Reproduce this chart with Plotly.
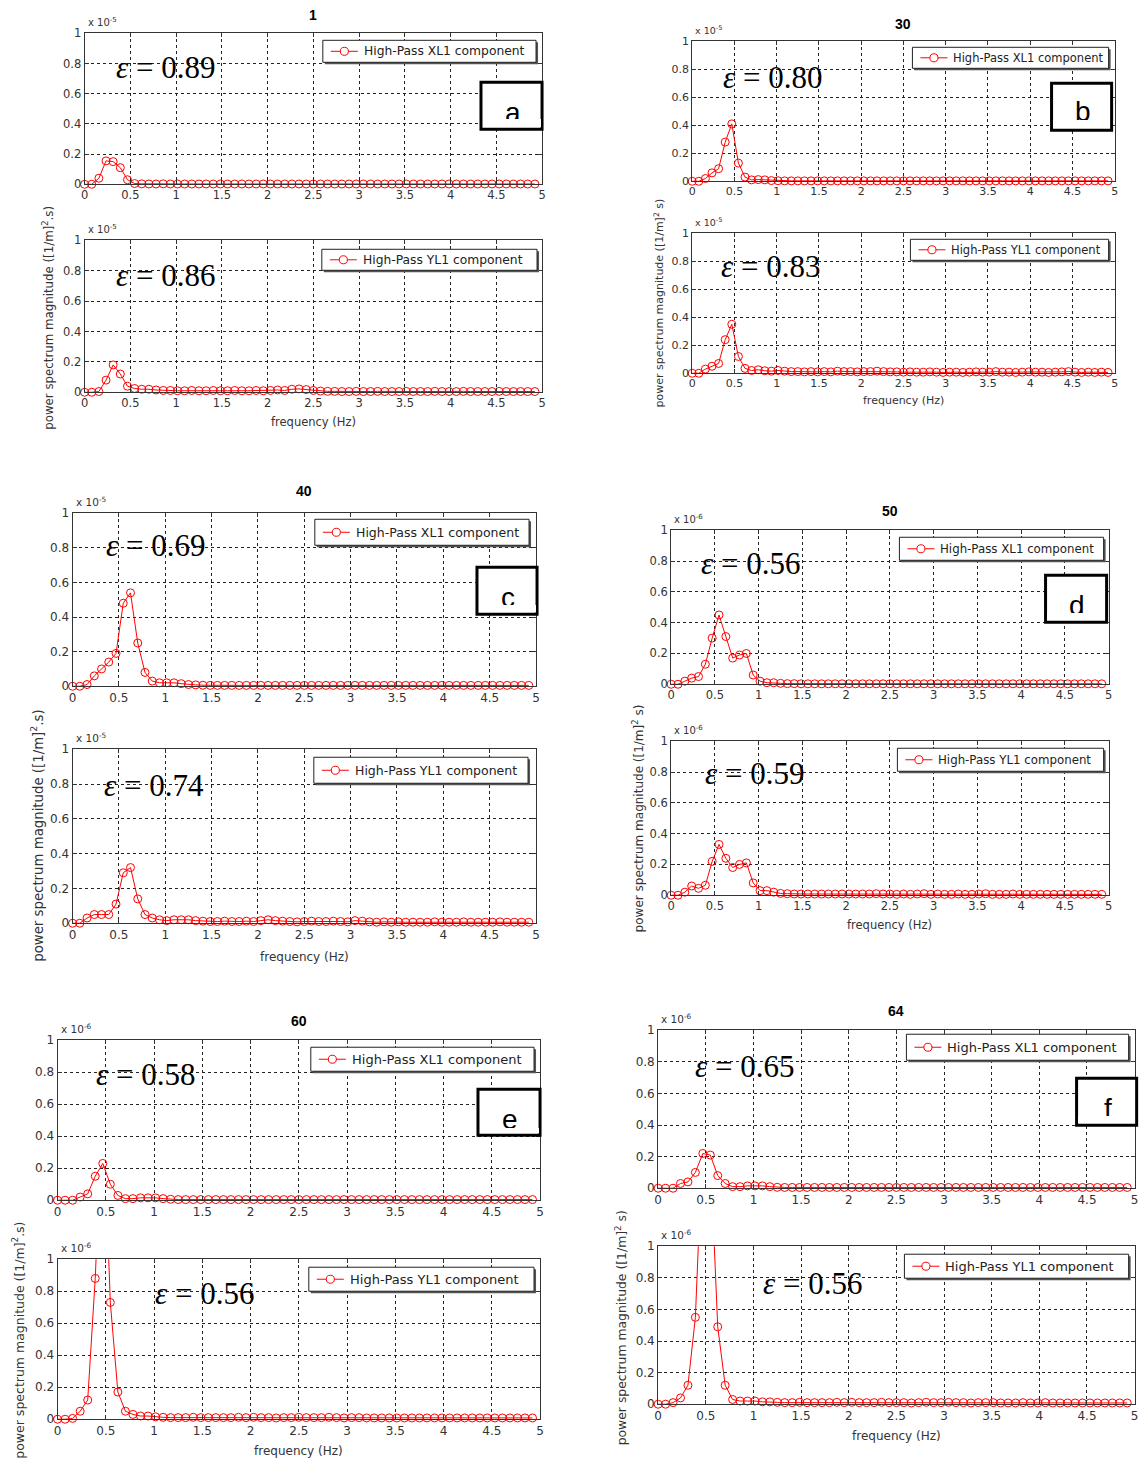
import plotly.graph_objects as go

# FFT bin frequencies (Hz): fs = 10 Hz, N = 128, first 64 bins
freq = [0, 0.0781, 0.1563, 0.2344, 0.3125, 0.3906, 0.4688, 0.5469, 0.625, 0.7031, 0.7813, 0.8594, 0.9375, 1.0156, 1.0938, 1.1719,
        1.25, 1.3281, 1.4063, 1.4844, 1.5625, 1.6406, 1.7188, 1.7969, 1.875, 1.9531, 2.0313, 2.1094, 2.1875, 2.2656, 2.3438, 2.4219,
        2.5, 2.5781, 2.6563, 2.7344, 2.8125, 2.8906, 2.9688, 3.0469, 3.125, 3.2031, 3.2813, 3.3594, 3.4375, 3.5156, 3.5938, 3.6719,
        3.75, 3.8281, 3.9063, 3.9844, 4.0625, 4.1406, 4.2188, 4.2969, 4.375, 4.4531, 4.5313, 4.6094, 4.6875, 4.7656, 4.8438, 4.9219]

# Power spectrum magnitudes, in units of the axis multiplier
a_xl1 = [0, 0, 0.04, 0.155, 0.15, 0.11, 0.03, 0.005, 0.003, 0.002, 0.002, 0.003, 0.002, 0.002, 0.002, 0.002,
         0.002, 0.002, 0.002, 0.002, 0.002, 0.002, 0.002, 0.002, 0.002, 0.002, 0.002, 0.002, 0.002, 0.002, 0.002, 0.002,
         0.002, 0.002, 0.002, 0.002, 0.002, 0.002, 0.002, 0.002, 0.002, 0.002, 0.002, 0.002, 0.002, 0.002, 0.002, 0.002,
         0.002, 0.002, 0.002, 0.002, 0.002, 0.002, 0.002, 0.002, 0.002, 0.002, 0.002, 0.002, 0.002, 0.002, 0.002, 0.002]
a_yl1 = [0, 0, 0.005, 0.08, 0.18, 0.12, 0.04, 0.025, 0.02, 0.02, 0.015, 0.012, 0.012, 0.01, 0.01, 0.012,
         0.01, 0.01, 0.012, 0.01, 0.01, 0.012, 0.01, 0.01, 0.012, 0.01, 0.012, 0.015, 0.012, 0.02, 0.022, 0.018,
         0.012, 0.008, 0.006, 0.006, 0.005, 0.005, 0.006, 0.005, 0.005, 0.006, 0.005, 0.005, 0.005, 0.006, 0.005, 0.005,
         0.005, 0.006, 0.005, 0.005, 0.005, 0.006, 0.005, 0.005, 0.005, 0.005, 0.006, 0.005, 0.005, 0.005, 0.005, 0.005]
b_xl1 = [0, 0, 0.02, 0.06, 0.09, 0.28, 0.41, 0.13, 0.03, 0.01, 0.012, 0.01, 0.005, 0.004, 0.003, 0.003,
         0.003, 0.003, 0.003, 0.003, 0.003, 0.003, 0.003, 0.003, 0.003, 0.003, 0.003, 0.003, 0.003, 0.003, 0.003, 0.003,
         0.003, 0.003, 0.003, 0.003, 0.003, 0.003, 0.003, 0.003, 0.003, 0.003, 0.003, 0.003, 0.003, 0.003, 0.003, 0.003,
         0.003, 0.003, 0.003, 0.003, 0.003, 0.003, 0.003, 0.003, 0.003, 0.003, 0.003, 0.003, 0.003, 0.003, 0.003, 0.003]
b_yl1 = [0, 0, 0.03, 0.05, 0.07, 0.24, 0.35, 0.12, 0.035, 0.02, 0.025, 0.018, 0.015, 0.02, 0.015, 0.012,
         0.012, 0.01, 0.012, 0.01, 0.012, 0.01, 0.015, 0.012, 0.012, 0.01, 0.012, 0.012, 0.015, 0.012, 0.01, 0.01,
         0.008, 0.01, 0.008, 0.008, 0.01, 0.008, 0.006, 0.008, 0.008, 0.006, 0.008, 0.01, 0.008, 0.008, 0.012, 0.008,
         0.008, 0.006, 0.008, 0.01, 0.008, 0.008, 0.006, 0.008, 0.01, 0.012, 0.008, 0.006, 0.008, 0.006, 0.008, 0.006]
c_xl1 = [0, 0, 0.01, 0.06, 0.10, 0.14, 0.19, 0.48, 0.54, 0.25, 0.08, 0.03, 0.02, 0.02, 0.02, 0.015,
         0.01, 0.008, 0.006, 0.005, 0.005, 0.005, 0.005, 0.005, 0.005, 0.005, 0.005, 0.005, 0.005, 0.005, 0.005, 0.005,
         0.005, 0.005, 0.005, 0.005, 0.005, 0.005, 0.005, 0.005, 0.005, 0.005, 0.005, 0.005, 0.005, 0.005, 0.005, 0.005,
         0.005, 0.005, 0.005, 0.005, 0.005, 0.005, 0.005, 0.005, 0.005, 0.005, 0.005, 0.005, 0.005, 0.005, 0.005, 0.005]
c_yl1 = [0, 0, 0.03, 0.05, 0.05, 0.05, 0.11, 0.29, 0.32, 0.14, 0.05, 0.03, 0.02, 0.015, 0.02, 0.02,
         0.02, 0.015, 0.012, 0.01, 0.01, 0.012, 0.01, 0.01, 0.012, 0.01, 0.015, 0.02, 0.015, 0.012, 0.01, 0.008,
         0.01, 0.012, 0.01, 0.01, 0.012, 0.01, 0.008, 0.015, 0.012, 0.008, 0.006, 0.008, 0.006, 0.008, 0.006, 0.006,
         0.006, 0.006, 0.008, 0.006, 0.006, 0.006, 0.008, 0.006, 0.006, 0.006, 0.006, 0.008, 0.006, 0.006, 0.006, 0.006]
d_xl1 = [0, 0, 0.02, 0.04, 0.05, 0.13, 0.30, 0.45, 0.31, 0.17, 0.19, 0.20, 0.06, 0.02, 0.01, 0.01,
         0.006, 0.004, 0.004, 0.003, 0.003, 0.003, 0.003, 0.003, 0.003, 0.003, 0.003, 0.003, 0.003, 0.003, 0.003, 0.003,
         0.003, 0.003, 0.003, 0.003, 0.003, 0.003, 0.003, 0.003, 0.003, 0.003, 0.003, 0.003, 0.003, 0.003, 0.003, 0.003,
         0.003, 0.003, 0.003, 0.003, 0.003, 0.003, 0.003, 0.003, 0.003, 0.003, 0.003, 0.003, 0.003, 0.003, 0.003, 0.003]
d_yl1 = [0, 0, 0.02, 0.06, 0.045, 0.065, 0.22, 0.33, 0.24, 0.18, 0.20, 0.21, 0.08, 0.03, 0.03, 0.02,
         0.012, 0.01, 0.008, 0.008, 0.008, 0.008, 0.008, 0.008, 0.008, 0.008, 0.008, 0.008, 0.008, 0.008, 0.01, 0.008,
         0.008, 0.006, 0.008, 0.006, 0.008, 0.01, 0.006, 0.008, 0.006, 0.006, 0.008, 0.006, 0.006, 0.008, 0.01, 0.006,
         0.006, 0.006, 0.008, 0.006, 0.006, 0.006, 0.006, 0.006, 0.006, 0.006, 0.006, 0.006, 0.006, 0.006, 0.006, 0.006]
e_xl1 = [0, 0, 0, 0.02, 0.04, 0.15, 0.23, 0.10, 0.03, 0.01, 0.01, 0.015, 0.015, 0.015, 0.01, 0.006,
         0.004, 0.004, 0.004, 0.004, 0.004, 0.004, 0.004, 0.004, 0.004, 0.004, 0.004, 0.004, 0.004, 0.004, 0.004, 0.004,
         0.004, 0.004, 0.004, 0.004, 0.004, 0.004, 0.004, 0.004, 0.004, 0.004, 0.004, 0.004, 0.004, 0.004, 0.004, 0.004,
         0.004, 0.004, 0.004, 0.004, 0.004, 0.004, 0.004, 0.004, 0.004, 0.004, 0.004, 0.004, 0.004, 0.004, 0.004, 0.004]
e_yl1 = [0, 0, 0.005, 0.05, 0.12, 0.88, 2.0, 0.73, 0.17, 0.05, 0.03, 0.02, 0.02, 0.015, 0.012, 0.01,
         0.01, 0.01, 0.012, 0.01, 0.01, 0.01, 0.01, 0.01, 0.012, 0.01, 0.012, 0.01, 0.01, 0.008, 0.01, 0.01,
         0.012, 0.01, 0.01, 0.01, 0.012, 0.01, 0.008, 0.01, 0.01, 0.008, 0.008, 0.008, 0.008, 0.008, 0.008, 0.008,
         0.008, 0.008, 0.008, 0.008, 0.008, 0.008, 0.008, 0.008, 0.008, 0.008, 0.008, 0.008, 0.008, 0.008, 0.008, 0.008]
f_xl1 = [0, 0, 0, 0.03, 0.04, 0.10, 0.22, 0.21, 0.08, 0.03, 0.01, 0.01, 0.015, 0.015, 0.015, 0.01,
         0.006, 0.005, 0.005, 0.005, 0.005, 0.005, 0.005, 0.005, 0.005, 0.005, 0.005, 0.005, 0.005, 0.005, 0.005, 0.005,
         0.005, 0.005, 0.005, 0.005, 0.005, 0.005, 0.005, 0.005, 0.005, 0.005, 0.005, 0.005, 0.005, 0.005, 0.005, 0.005,
         0.005, 0.005, 0.005, 0.005, 0.005, 0.005, 0.005, 0.005, 0.005, 0.005, 0.005, 0.005, 0.005, 0.005, 0.005, 0.005]
f_yl1 = [0, 0, 0.01, 0.04, 0.12, 0.55, 1.7, 1.6, 0.49, 0.12, 0.03, 0.02, 0.02, 0.02, 0.015, 0.015,
         0.012, 0.01, 0.01, 0.012, 0.01, 0.01, 0.01, 0.01, 0.012, 0.01, 0.012, 0.01, 0.01, 0.01, 0.012, 0.01,
         0.01, 0.01, 0.008, 0.01, 0.012, 0.01, 0.01, 0.012, 0.01, 0.01, 0.008, 0.01, 0.01, 0.01, 0.008, 0.008,
         0.008, 0.01, 0.008, 0.008, 0.01, 0.008, 0.008, 0.008, 0.008, 0.008, 0.008, 0.008, 0.008, 0.008, 0.008, 0.008]

titles = ["1", "30", "40", "50", "60", "64"]
letters = ["a", "b", "c", "d", "e", "f"]
eps_top = ["0.89", "0.80", "0.69", "0.56", "0.58", "0.65"]
eps_bot = ["0.86", "0.83", "0.74", "0.59", "0.56", "0.56"]
multiplier_top = ["-5", "-5", "-5", "-6", "-6", "-6"]
multiplier_bot = ["-5", "-5", "-5", "-6", "-6", "-6"]
ylabel_tail = [".s)", " s)", ".s)", " s)", ".s)", " s)"]
legend_names = ["High-Pass XL1 component", "High-Pass YL1 component"]
xl1_series = [a_xl1, b_xl1, c_xl1, d_xl1, e_xl1, f_xl1]
yl1_series = [a_yl1, b_yl1, c_yl1, d_yl1, e_yl1, f_yl1]

FIG_W, FIG_H = 1144, 1465
# Page placement of the figure (offset and scale of the rendered page)
AX, SX = 3.5, 0.992
AY, SY = 6.7, 0.9905

# Panel geometry in page pixels
panels = [
    dict(x0=84, x1=541, t0=33, t1=184, b0=240, b1=392, fs=11.5, lfs=12.3, yfs=11.8,
         lg_t=(322, 40, 535, 62), lg_b=(321, 249, 536, 270),
         box=(480, 82, 541, 129), base=122, cut=119,
         eps_t=(113, 67), eps_b=(113, 275), ylab=(48, 318), xlab=422, ttl=15),
    dict(x0=691, x1=1113, t0=41, t1=181, b0=233, b1=373, fs=11, lfs=11.5, yfs=11,
         lg_t=(911, 47, 1107, 68), lg_b=(909, 239, 1107, 260),
         box=(1050, 83, 1110, 130), base=121, cut=120,
         eps_t=(720, 77), eps_b=(718, 266), ylab=(658, 303), xlab=400, ttl=24),
    dict(x0=72, x1=535, t0=513, t1=686, b0=749, b1=923, fs=12, lfs=12.5, yfs=13.3,
         lg_t=(314, 519, 528, 545), lg_b=(313, 757, 527, 783),
         box=(476, 567, 536, 614), base=607, cut=605,
         eps_t=(103, 545), eps_b=(101, 785), ylab=(37, 836), xlab=957, ttl=491),
    dict(x0=670, x1=1107, t0=530, t1=684, b0=741, b1=895, fs=11.5, lfs=11.8, yfs=12,
         lg_t=(898, 537, 1102, 560), lg_b=(896, 748, 1102, 771),
         box=(1044, 575, 1105, 622), base=615, cut=613,
         eps_t=(698, 563), eps_b=(702, 773), ylab=(637, 818), xlab=925, ttl=511),
    dict(x0=57, x1=539, t0=1040, t1=1200, b0=1259, b1=1419, fs=12, lfs=13, yfs=12.5,
         lg_t=(310, 1047, 533, 1071), lg_b=(308, 1267, 533, 1291),
         box=(477, 1089, 539, 1135), base=1129, cut=1128,
         eps_t=(93, 1074), eps_b=(152, 1293), ylab=(18, 1340), xlab=1451, ttl=1021),
    dict(x0=657, x1=1133, t0=1030, t1=1188, b0=1246, b1=1404, fs=12, lfs=13, yfs=12.4,
         lg_t=(905, 1034, 1127, 1060), lg_b=(903, 1254, 1127, 1278),
         box=(1075, 1078, 1135, 1125), base=1118, cut=1116,
         eps_t=(692, 1066), eps_b=(760, 1283), ylab=(620, 1328), xlab=1436, ttl=1011),
]


def px(x):
    return ((x - AX) / SX) / FIG_W


def py(y):
    return 1 - ((y - AY) / SY) / FIG_H


SANS = "DejaVu Sans, Verdana, sans-serif"
ARIAL = "Arial, Liberation Sans, Helvetica, sans-serif"
SERIF = "Times New Roman, Liberation Serif, serif"
RED = "#ff0000"

fig = go.Figure()
layout = dict(width=FIG_W, height=FIG_H, margin=dict(l=0, r=0, t=0, b=0), autosize=False,
              paper_bgcolor="white", plot_bgcolor="white", showlegend=False)
annotations = []
shapes = []


def paper_shape(kind, x0, y0, x1, y1, **kw):
    return dict(type=kind, xref="paper", yref="paper", x0=px(x0), x1=px(x1), y0=py(y1), y1=py(y0), **kw)


def draw_legend(box, text, fs):
    x0, y0, x1, y1 = box
    ym = (y0 + y1) / 2
    # drop shadow, frame, sample line and sample marker
    shapes.append(paper_shape("rect", x0 + 2, y0 + 2, x1 + 2, y1 + 2, line=dict(width=0), fillcolor="#555",
                              layer="above"))
    shapes.append(paper_shape("rect", x0, y0, x1, y1, line=dict(color="#222", width=1), fillcolor="white",
                              layer="above"))
    shapes.append(paper_shape("line", x0 + 8, ym, x0 + 35, ym, line=dict(color=RED, width=1), layer="above"))
    shapes.append(paper_shape("circle", x0 + 17.5, ym - 4, x0 + 25.5, ym + 4,
                              line=dict(color=RED, width=1), fillcolor="white", layer="above"))
    annotations.append(dict(text=text, x=px(x0 + 39), y=py(ym), xref="paper", yref="paper",
                            xanchor="left", yanchor="middle", showarrow=False,
                            font=dict(family=SANS, size=fs, color="#222")))


n = 0
for i, p in enumerate(panels):
    for half in ("top", "bot"):
        n += 1
        suffix = "" if n == 1 else str(n)
        y0, y1 = (p["t0"], p["t1"]) if half == "top" else (p["b0"], p["b1"])
        vals = xl1_series[i] if half == "top" else yl1_series[i]
        name = legend_names[0] if half == "top" else legend_names[1]
        fig.add_trace(go.Scatter(
            x=freq, y=vals, mode="lines+markers", name=name,
            xaxis="x" + suffix, yaxis="y" + suffix,
            line=dict(color=RED, width=1),
            marker=dict(symbol="circle-open", size=8, color=RED, line=dict(width=1, color=RED),
                        opacity=[1 if v <= 1 else 0 for v in vals]),
            cliponaxis=False, hoverinfo="skip"))
        fs = p["fs"]
        axis_common = dict(showline=True, linecolor="#333", linewidth=1, mirror="ticks",
                           ticks="inside", ticklen=4, tickcolor="#333",
                           showgrid=True, gridcolor="#222", griddash="dot", gridwidth=1,
                           zeroline=False, tickfont=dict(family=SANS, size=fs, color="#333"),
                           fixedrange=True)
        layout["xaxis" + suffix] = dict(axis_common, domain=[px(p["x0"]), px(p["x1"])],
                                        range=[0, 5], tickvals=[0, 0.5, 1, 1.5, 2, 2.5, 3, 3.5, 4, 4.5, 5],
                                        anchor="y" + suffix)
        layout["yaxis" + suffix] = dict(axis_common, domain=[py(y1), py(y0)],
                                        range=[0, 1], tickvals=[0, 0.2, 0.4, 0.6, 0.8, 1],
                                        anchor="x" + suffix)
        draw_legend(p["lg_t"] if half == "top" else p["lg_b"], name, p["lfs"])
        # axis multiplier above the y axis
        mult = multiplier_top[i] if half == "top" else multiplier_bot[i]
        annotations.append(dict(text="x 10<sup>" + mult + "</sup>", x=px(p["x0"] + 1), y=py(y0 - 3),
                                xref="paper", yref="paper", xanchor="left", yanchor="bottom",
                                showarrow=False, font=dict(family=SANS, size=fs - 1.5, color="#333")))
        # correlation coefficient label
        ex, ey = p["eps_t"] if half == "top" else p["eps_b"]
        ev = eps_top[i] if half == "top" else eps_bot[i]
        annotations.append(dict(text="<i>ε</i> = " + ev, x=px(ex), y=py(ey), xref="paper", yref="paper",
                                xanchor="left", yanchor="middle", showarrow=False,
                                font=dict(family=SERIF, size=31, color="#000")))

    # panel title
    annotations.append(dict(text="<b>" + titles[i] + "</b>", x=px((p["x0"] + p["x1"]) / 2), y=py(p["ttl"]),
                            xref="paper", yref="paper", xanchor="center", yanchor="middle",
                            showarrow=False, font=dict(family=ARIAL, size=14, color="#000")))
    # x label
    annotations.append(dict(text="frequency (Hz)", x=px((p["x0"] + p["x1"]) / 2), y=py(p["xlab"]),
                            xref="paper", yref="paper", xanchor="center", yanchor="middle",
                            showarrow=False, font=dict(family=SANS, size=p["fs"], color="#333")))
    # shared y label
    annotations.append(dict(text="power spectrum magnitude ([1/m]<sup>2</sup>" + ylabel_tail[i],
                            x=px(p["ylab"][0]), y=py(p["ylab"][1]), xref="paper", yref="paper",
                            xanchor="center", yanchor="middle", textangle=-90, showarrow=False,
                            font=dict(family=SANS, size=p["yfs"], color="#333")))
    # panel letter box: frame, letter, and a white strip trimming the letter's foot
    bx0, by0, bx1, by1 = p["box"]
    shapes.append(paper_shape("rect", bx0, by0, bx1, by1, line=dict(color="#000", width=3), fillcolor="white",
                              layer="above"))
    annotations.append(dict(text=letters[i], x=px((bx0 + bx1) / 2 + 1), y=py(p["base"] - 9.8),
                            xref="paper", yref="paper", xanchor="center", yanchor="middle", showarrow=False,
                            font=dict(family=ARIAL, size=28, color="#000")))
    cover_h = ((by1 - 1.6) - p["cut"]) / SY
    annotations.append(dict(text=" ", x=px(bx0 + 1.6), y=py(p["cut"]), xref="paper", yref="paper",
                            xanchor="left", yanchor="top", showarrow=False, width=(bx1 - bx0 - 3.2) / SX,
                            height=cover_h, bgcolor="white", borderpad=0, borderwidth=0,
                            font=dict(size=4)))

layout["annotations"] = annotations
layout["shapes"] = shapes
fig.update_layout(**layout)
fig.write_html("out.html")
